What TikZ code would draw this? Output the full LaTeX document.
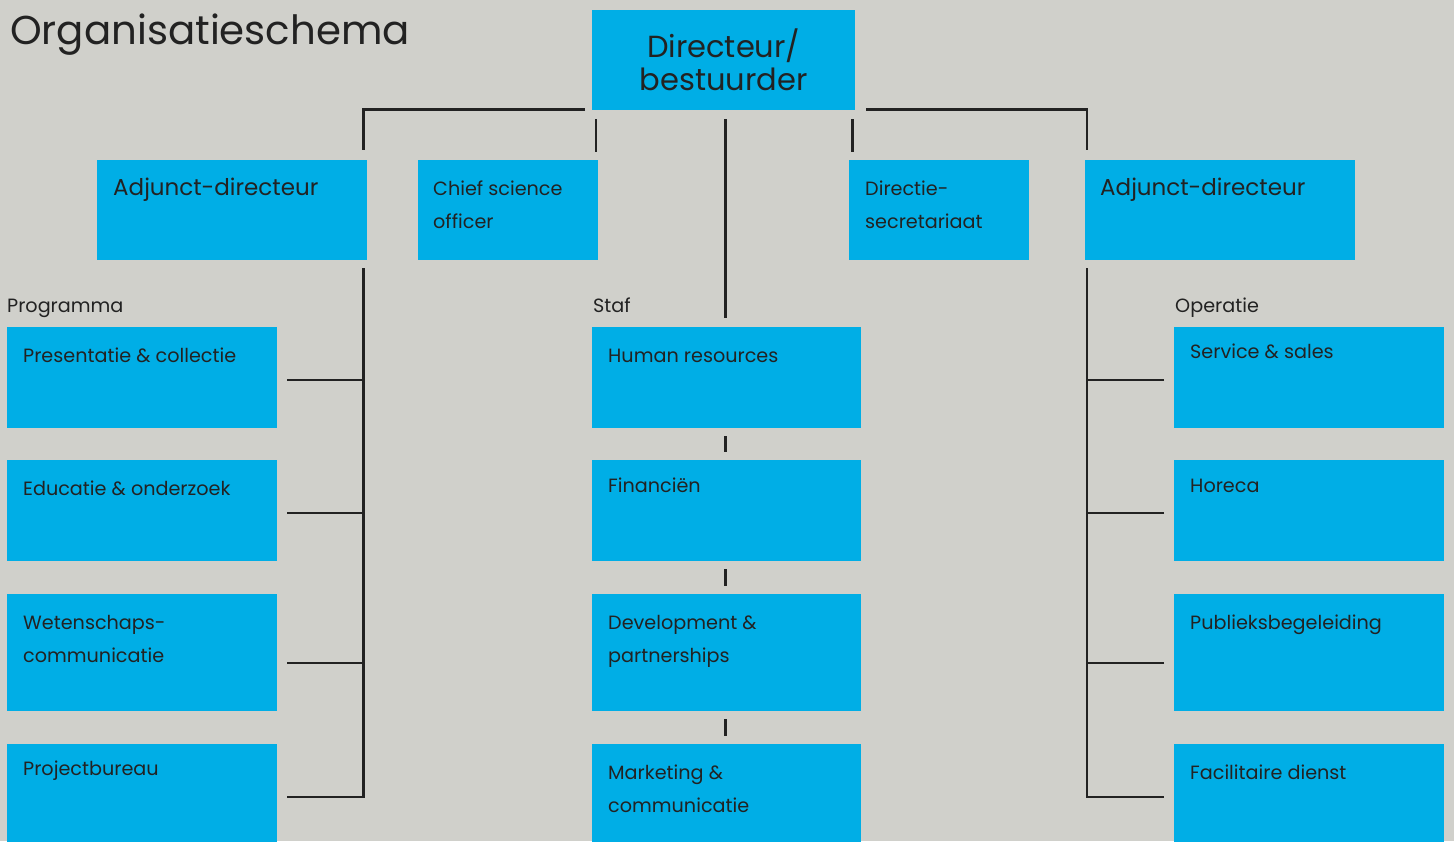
\documentclass[tikz,border=0pt]{standalone}
\usepackage{fontspec}
\setmainfont{Poppins}
\definecolor{bg}{HTML}{D0D0CB}
\definecolor{blu}{HTML}{00AEE6}
\definecolor{ink}{HTML}{222222}
\begin{document}
\begin{tikzpicture}[x=1pt,y=-1pt,
  box/.style={fill=blu, draw=none, anchor=north west, inner sep=0pt},
  wide/.style={box, minimum width=270pt},
  small/.style={box, minimum width=180pt, minimum height=100pt},
  txt/.style={anchor=base west, inner sep=0pt, align=left, text=ink, font=\fontsize{19.2}{33}\selectfont},
  big/.style={txt, font=\fontsize{23}{33}\selectfont},
  ln/.style={draw=ink, line width=2.6pt, line join=miter}]
\fill[bg] (0,0) rectangle (1454,841);
\useasboundingbox (0,0) rectangle (1454,841);

\node[anchor=base west, inner sep=0pt, text=ink, font=\fontsize{40.3}{41}\selectfont] (title) at (10,44) {Organisatieschema};

% top level
\node[box, minimum width=263pt, minimum height=100pt, align=center, text=ink,
      font=\fontsize{30.5}{33}\selectfont] (dir) at (592,10) {Directeur/\\bestuurder};

\node[wide, minimum height=100pt] (adjL) at (97,160) {};
\node[big] (adjLt) at ([xshift=16pt,yshift=-35pt]adjL.north west) {Adjunct-directeur};
\node[small] (cso) at (418,160) {};
\node[txt] (csot) at ([xshift=15pt,yshift=-68pt]cso.north west) {Chief science\\officer};
\node[small] (ds) at (849,160) {};
\node[txt] (dst) at ([xshift=16pt,yshift=-68pt]ds.north west) {Directie-\\secretariaat};
\node[wide, minimum height=100pt] (adjR) at (1085,160) {};
\node[big] (adjRt) at ([xshift=15pt,yshift=-35pt]adjR.north west) {Adjunct-directeur};

% section labels
\node[txt] (prog) at (7,312) {Programma};
\node[txt] (staf) at (593,312) {Staf};
\node[txt] (oper) at (1175,312) {Operatie};

% left column
\node[wide, minimum height=101pt] (pc) at (7,327) {};
\node[txt] (pct) at ([xshift=16pt,yshift=-35pt]pc.north west) {Presentatie \& collectie};
\node[wide, minimum height=101pt] (eo) at (7,460) {};
\node[txt] (eot) at ([xshift=16pt,yshift=-35pt]eo.north west) {Educatie \& onderzoek};
\node[wide, minimum height=117pt] (wc) at (7,594) {};
\node[txt] (wct) at ([xshift=16pt,yshift=-68pt]wc.north west) {Wetenschaps-\\communicatie};
\node[wide, minimum height=100pt] (pb) at (7,744) {};
\node[txt] (pbt) at ([xshift=16pt,yshift=-31pt]pb.north west) {Projectbureau};

% center column
\node[box, minimum width=269pt, minimum height=101pt] (hr) at (592,327) {};
\node[txt] (hrt) at ([xshift=16pt,yshift=-35pt]hr.north west) {Human resources};
\node[box, minimum width=269pt, minimum height=101pt] (fin) at (592,460) {};
\node[txt] (fint) at ([xshift=16pt,yshift=-32pt]fin.north west) {Financiën};
\node[box, minimum width=269pt, minimum height=117pt] (dev) at (592,594) {};
\node[txt] (devt) at ([xshift=16pt,yshift=-68pt]dev.north west) {Development \&\\partnerships};
\node[box, minimum width=269pt, minimum height=100pt] (mc) at (592,744) {};
\node[txt] (mct) at ([xshift=16pt,yshift=-68pt]mc.north west) {Marketing \&\\communicatie};

% right column
\node[wide, minimum height=101pt] (ss) at (1174,327) {};
\node[txt] (sst) at ([xshift=16pt,yshift=-31pt]ss.north west) {Service \& sales};
\node[wide, minimum height=101pt] (ho) at (1174,460) {};
\node[txt] (hot) at ([xshift=16pt,yshift=-32pt]ho.north west) {Horeca};
\node[wide, minimum height=117pt] (pbg) at (1174,594) {};
\node[txt] (pbgt) at ([xshift=16pt,yshift=-35pt]pbg.north west) {Publieksbegeleiding};
\node[wide, minimum height=100pt] (fd) at (1174,744) {};
\node[txt] (fdt) at ([xshift=16pt,yshift=-35pt]fd.north west) {Facilitaire dienst};

% top connectors
\draw[ln] ([xshift=-7pt,yshift=1pt]dir.south west) -| ([xshift=-4pt,yshift=10pt]adjL.north east);
\draw[ln] ([xshift=11pt,yshift=1pt]dir.south east) -| ([xshift=2pt,yshift=10pt]adjR.north west);
\draw[ln] ([xshift=4pt,yshift=-9pt]dir.south west) -- ([xshift=4pt,yshift=8pt]dir.south west |- cso.north);
\draw[ln] ([xshift=-3pt,yshift=-9pt]dir.south east) -- ([xshift=-3pt,yshift=8pt]dir.south east |- ds.north);
\draw[ln] ([xshift=1.5pt,yshift=-9pt]dir.south) -- ([xshift=1.5pt,yshift=9pt]dir.south |- hr.north);

% left tree
\coordinate (Ltop) at ([xshift=-4pt,yshift=-8pt]adjL.south east);
\coordinate (pcR) at ([xshift=10pt,yshift=-53pt]pc.north east);
\coordinate (eoR) at ([xshift=10pt,yshift=-53pt]eo.north east);
\coordinate (wcR) at ([xshift=10pt,yshift=-69pt]wc.north east);
\coordinate (pbR) at ([xshift=10pt,yshift=-53pt]pb.north east);
\draw[ln] (Ltop) -- (Ltop |- pbR) -- (pbR);
\draw[ln] (pcR) -- (pcR -| Ltop);
\draw[ln] (eoR) -- (eoR -| Ltop);
\draw[ln] (wcR) -- (wcR -| Ltop);

% right tree
\coordinate (Rtop) at ([xshift=2pt,yshift=-8pt]adjR.south west);
\coordinate (ssL) at ([xshift=-10pt,yshift=-53pt]ss.north west);
\coordinate (hoL) at ([xshift=-10pt,yshift=-53pt]ho.north west);
\coordinate (pbgL) at ([xshift=-10pt,yshift=-69pt]pbg.north west);
\coordinate (fdL) at ([xshift=-10pt,yshift=-53pt]fd.north west);
\draw[ln] (Rtop) -- (Rtop |- fdL) -- (fdL);
\draw[ln] (ssL) -- (ssL -| Rtop);
\draw[ln] (hoL) -- (hoL -| Rtop);
\draw[ln] (pbgL) -- (pbgL -| Rtop);

% center ticks
\draw[ln] ([xshift=-1.5pt,yshift=-8pt]hr.south) -- ([xshift=-1.5pt,yshift=8pt]fin.north);
\draw[ln] ([xshift=-1.5pt,yshift=-8pt]fin.south) -- ([xshift=-1.5pt,yshift=8pt]dev.north);
\draw[ln] ([xshift=-1.5pt,yshift=-8pt]dev.south) -- ([xshift=-1.5pt,yshift=8pt]mc.north);
\end{tikzpicture}
\end{document}
